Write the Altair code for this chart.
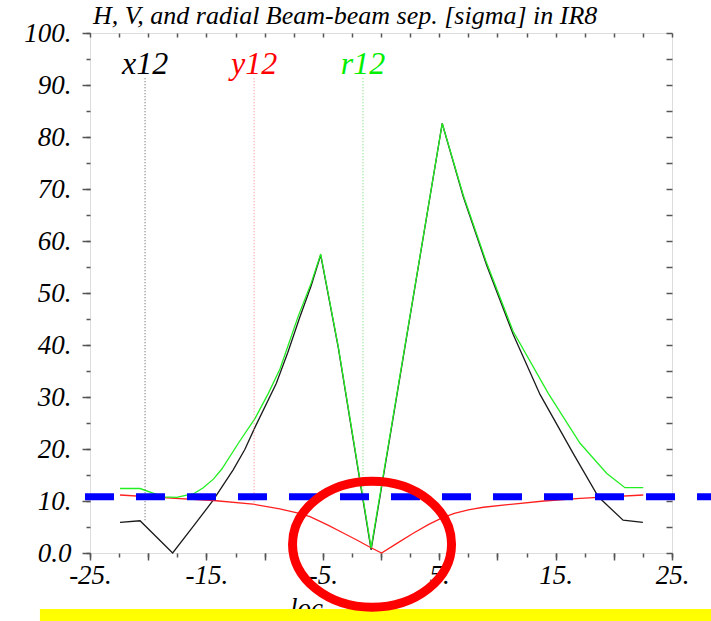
import altair as alt
import pandas as pd

# Horizontal (x12), vertical (y12) and radial (r12) beam-beam separation in IR8, in sigma
x12_loc = [-22.42, -20.7, -17.9, -16.1, -14.4, -12.7, -11.7, -10.8, -9.0, -8.0, -7.0, -6.0, -5.18, -3.67, -0.85,
           5.26, 7.07, 9.07, 11.36, 13.66, 16.52, 18.67, 20.8, 22.5]
x12_sep = [5.9, 6.2, 0.0, 5.2, 10.2, 16.0, 19.9, 24.3, 32.6, 38.6, 45.2, 51.4, 57.3, 39.5, 0.6,
           82.6, 68.5, 55.4, 42.0, 30.5, 19.1, 10.8, 6.3, 5.9]

y12_loc = [-22.42, -18.4, -14.4, -11.0, -8.7, -7.2, -6.1, -4.6, -3.2, -2.0, -0.94, 0.05,
           1.4, 2.77, 4.1, 5.2, 6.3, 7.5, 8.8, 11.36, 14.0, 17.1, 22.53]
y12_sep = [11.15, 10.6, 10.1, 9.4, 8.5, 7.7, 7.0, 5.4, 3.8, 2.4, 1.1, 0.0,
           1.9, 3.8, 5.5, 6.7, 7.6, 8.3, 8.8, 9.4, 10.0, 10.5, 11.15]

r12_loc = [-22.42, -20.7, -18.7, -17.56, -16.1, -15.3, -14.4, -13.69, -12.2, -10.82, -9.7, -8.68, -7.1, -6.0,
           -5.18, -3.67, -0.85, 5.26, 7.07, 9.07, 11.36, 14.37, 17.1, 19.4, 20.96, 22.53]
r12_sep = [12.4, 12.4, 10.8, 10.7, 11.4, 12.5, 14.2, 16.1, 21.3, 25.9, 30.6, 35.4, 45.6, 51.9,
           57.5, 39.7, 1.0, 82.6, 68.8, 55.8, 42.6, 30.7, 21.1, 15.3, 12.56, 12.56]

# Series labels with their marker positions
series_names = ["x12", "y12", "r12"]
series_colors = ["#000000", "#ff0000", "#00ee00"]
marker_dot_colors = ["#555555", "#ff8080", "#66dd66"]
marker_loc = [-20.27, -10.9, -1.55]
marker_top = [91.3, 91.3, 91.3]
marker_bottom = [6.2, 9.3, 10.6]
label_level = [92.1, 92.1, 92.1]

# Separation threshold line
threshold_level = [10.8]
threshold_from = [-25.43]
threshold_to = [28.35]

# Highlight ring around the crossing point
ring_loc = [-0.77]
ring_level = [1.67]

# Band along the lower edge
band_from = [-29.3]
band_to = [28.4]
band_low = [-13.3]
band_high = [-10.77]

SERIF = "Liberation Serif"
AXIS_GRAY = "#555555"

rows = []
for name, locs, seps in [("x12", x12_loc, x12_sep), ("y12", y12_loc, y12_sep), ("r12", r12_loc, r12_sep)]:
    for i, (l, s) in enumerate(zip(locs, seps)):
        rows.append({"series": name, "loc": l, "sep": s, "order": i})
curves = pd.DataFrame(rows)

markers = pd.DataFrame({
    "series": series_names, "loc": marker_loc, "top": marker_top,
    "bottom": marker_bottom, "label_y": label_level,
})

xscale = alt.Scale(domain=[-25, 25], nice=False, zero=False)
yscale = alt.Scale(domain=[0, 100], nice=False, zero=False)

major_x_axis = alt.Axis(
    orient="bottom", values=list(range(-25, 30, 5)), tickSize=7, tickColor=AXIS_GRAY, tickWidth=1.5,
    domain=False, grid=False,
    labelExpr="(datum.value + 25) % 10 == 0 ? datum.value + '.' : ''",
    labelFont=SERIF, labelFontStyle="italic", labelFontSize=27, labelColor="black",
    labelBaseline="alphabetic", labelPadding=23, labelFlush=False, labelOverlap=False,
    title="loc", titleFont=SERIF, titleFontStyle="italic", titleFontWeight="normal",
    titleFontSize=27, titleColor="black", titleX=216, titleY=63,
    titleBaseline="alphabetic", titleAlign="center",
)
major_y_axis = alt.Axis(
    orient="left", values=list(range(0, 110, 10)), tickSize=8, tickColor=AXIS_GRAY, tickWidth=1.5,
    domain=False, grid=False,
    labelExpr="datum.value == 0 ? '0.0' : datum.value + '.'",
    labelFont=SERIF, labelFontStyle="italic", labelFontSize=27, labelColor="black",
    labelPadding=11, labelFlush=False, labelOverlap=False, title=None,
)
minor_x_axis = alt.Axis(
    orient="bottom", values=[v / 2 for v in range(-50, 55, 5)], tickSize=4, tickColor=AXIS_GRAY,
    tickWidth=1.5, domain=False, grid=False, labels=False, title=None,
)
minor_y_axis = alt.Axis(
    orient="left", values=list(range(0, 105, 5)), tickSize=4, tickColor=AXIS_GRAY,
    tickWidth=1.5, domain=False, grid=False, labels=False, title=None,
)
top_axis = alt.Axis(
    orient="top", values=[v / 2 for v in range(-50, 55, 5)], tickSize=4, offset=-4,
    tickColor=AXIS_GRAY, tickWidth=1.5, domain=False, grid=False, labels=False, title=None,
)
right_axis = alt.Axis(
    orient="right", values=list(range(0, 105, 5)), tickSize=6, offset=-6,
    tickColor=AXIS_GRAY, tickWidth=1.5, domain=False, grid=False, labels=False, title=None,
)

# Curves (with the labelled axes)
lines = alt.Chart(curves).mark_line(strokeWidth=1.3).encode(
    x=alt.X("loc:Q", scale=xscale, axis=major_x_axis),
    y=alt.Y("sep:Q", scale=yscale, axis=major_y_axis),
    color=alt.Color("series:N", scale=alt.Scale(domain=["y12", "x12", "r12"],
                    range=["#ff2020", "#1a1a1a", "#22ee22"]), legend=None),
    order="order:Q",
    detail="series:N",
)

# Dotted markers from the labels down to each curve (carry the minor ticks)
dots = alt.Chart(markers).mark_rule(strokeWidth=1, strokeDash=[1, 2]).encode(
    x=alt.X("loc:Q", scale=xscale, axis=minor_x_axis),
    y=alt.Y("top:Q", scale=yscale, axis=minor_y_axis),
    y2="bottom:Q",
    color=alt.Color("series:N", scale=alt.Scale(domain=series_names, range=marker_dot_colors), legend=None),
)

labels = alt.Chart(markers).mark_text(
    font=SERIF, fontStyle="italic", fontSize=32, baseline="alphabetic", align="center"
).encode(
    x=alt.X("loc:Q", scale=xscale, axis=top_axis),
    y=alt.Y("label_y:Q", scale=yscale, axis=right_axis),
    text="series:N",
    color=alt.Color("series:N", scale=alt.Scale(domain=series_names, range=series_colors), legend=None),
)

threshold = alt.Chart(pd.DataFrame({"x": threshold_from, "x2": threshold_to, "y": threshold_level})).mark_rule(
    color="#0000ff", strokeWidth=7, strokeDash=[29, 22], strokeCap="butt"
).encode(
    x=alt.X("x:Q", scale=xscale, axis=None), x2="x2:Q",
    y=alt.Y("y:Q", scale=yscale, axis=None),
)

band = alt.Chart(pd.DataFrame({"x": band_from, "x2": band_to, "y": band_low, "y2": band_high})).mark_rect(
    color="#ffff00"
).encode(
    x=alt.X("x:Q", scale=xscale, axis=None), x2="x2:Q",
    y=alt.Y("y:Q", scale=yscale, axis=None), y2="y2:Q",
)

ring = alt.Chart(pd.DataFrame({"x": ring_loc, "y": ring_level})).mark_point(
    shape="M -1 0 A 1 0.792 0 1 1 1 0 A 1 0.792 0 1 1 -1 0 Z",
    size=25281, filled=False, stroke="#ff0000", strokeWidth=9, opacity=1,
).encode(
    x=alt.X("x:Q", scale=xscale, axis=None),
    y=alt.Y("y:Q", scale=yscale, axis=None),
)

chart = alt.layer(lines, dots, labels, threshold, band, ring).resolve_scale(
    color="independent"
).resolve_axis(
    x="independent", y="independent"
).properties(
    width=582, height=520,
    autosize=alt.AutoSizeParams(type="none"),
    padding={"left": 90, "top": 33, "right": 39, "bottom": 68},
    title=alt.TitleParams(
        "H, V, and radial Beam-beam sep. [sigma] in IR8",
        anchor="start", frame="group", font=SERIF, fontStyle="italic", fontWeight="normal",
        fontSize=26, color="black", baseline="alphabetic", offset=7, dx=3, dy=38,
    ),
).configure_view(
    stroke=AXIS_GRAY, strokeWidth=1.5
).configure(background="white")

chart.save("out.html", embed_options={"renderer": "svg", "actions": False})
